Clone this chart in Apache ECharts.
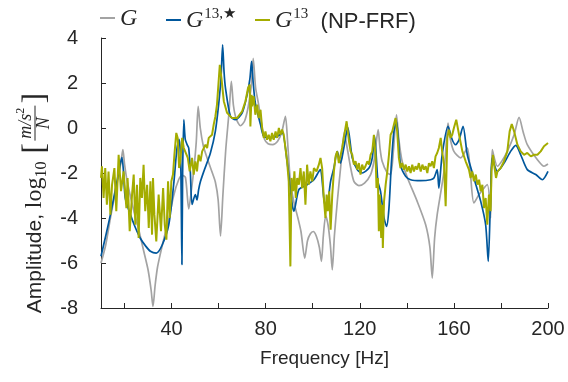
<!DOCTYPE html>
<html><head><meta charset="utf-8">
<script src="https://cdn.jsdelivr.net/npm/echarts@6/dist/echarts.min.js"></script>
<style>html,body{margin:0;padding:0;background:#fff}#c{width:568px;height:382px}</style>
</head><body><div id="c"></div>
<script>
// Tick values
const xTicks = [20,40,60,80,100,120,140,160,180,200];
const xLabels = [40,80,120,160,200];
const yTicks = [-8,-6,-4,-2,0,2,4];

// G (true system) - gray
const gFreq = [10,12,14,16,17.5,18.5,19.3,20,21,22,24,26,28,30,31.3,32.1,33,34,35.2,37,38.5,40.9,43,44.5,45.9,47.3,48.5,49.5,50.5,51.3,52.2,53.5,55.1,57,58.6,59.8,60.8,61.8,63,64.5,65.4,66.3,67.5,69.3,71,72.5,73.8,74.7,75.7,77,78.5,79.5,81,83,85,86.8,88.4,89.3,90.5,92,93.7,95,96.6,97.8,99,100.2,101.5,102.8,103.7,104.5,105.5,106.5,107.5,108.3,109.2,110.5,112,113.4,114.5,116,117.5,119.6,122,124.6,126,126.7,127.8,128.6,129.5,131.7,133.1,134.3,135.6,136.6,138,140.2,144.4,148,149.8,150.8,151.8,152.9,155.8,156.8,157.5,158.5,160,162.9,165.7,167,168.5,170.7,174.2,175.6,176.3,178.5,180.5,182.7,185.6,187.7,189.5,191.2,195.5,198.3,200];
const gVal = [-6.0,-5.2,-4.0,-2.9,-2.1,-1.5,-0.96,-1.6,-2.3,-2.8,-3.7,-4.5,-5.4,-6.3,-7.2,-7.93,-7.0,-6.2,-5.6,-4.8,-4.2,-3.0,-2.3,-2.1,-2.2,-3.6,-2.7,-1.8,-0.6,0.96,0,-0.8,-1.33,-1.9,-2.4,-3.2,-4.8,-3.0,-1.0,0.8,2.07,1.0,0.4,0.1,0.3,0.9,1.8,3.1,1.8,1.04,0.0,-0.5,-0.7,-0.74,-0.6,-0.2,0.52,-0.6,-2.37,-3.3,-4.0,-4.6,-5.78,-5.0,-4.7,-4.6,-4.8,-5.3,-5.93,-4.8,-3.9,-4.3,-5.2,-6.3,-4.8,-3.2,-1.6,-0.19,-0.8,-1.7,-2.37,-2.56,-2.45,-2.07,-1.5,-0.9,-0.07,-0.9,-1.48,-2.0,-2.07,-1.0,0.59,-0.5,-1.48,-2.2,-3.26,-4.3,-5.3,-6.67,-4.9,-3.85,-1.93,-0.6,0.22,-0.5,-1.04,-1.33,-0.89,-2.0,-3.33,-2.96,-2.52,-4.0,-0.96,-1.7,-1.45,-1.04,-0.3,0.47,-0.2,-0.74,-1.41,-1.7,-1.6];

// G^{13,*} - blue
const bFreq = [10,12,14,16.8,18.2,18.9,19.6,20.3,22.5,24.5,26.7,29,31,33.5,36,38.8,40.9,42.3,43.2,43.9,44.4,44.7,45.2,45.8,46.6,47.3,48,48.7,50.1,50.8,51.5,52.3,53.7,56.5,58.6,60,61,61.7,62.3,62.9,65,67.1,70,72.1,73.3,74,74.7,75.6,77.8,79.2,82,84.9,87,89.1,91.3,92,94.1,97.6,100.5,102.6,103.3,104.7,105.4,106.5,107.6,109,110.4,111.8,113.2,114.9,116.8,118.9,121,123.9,125.3,126.3,127.7,128.8,130.3,131.4,132.4,133.4,134.5,135.6,137.3,139.5,141.6,145.9,150.1,151.5,152.9,153.6,155,157.5,159.3,160.7,162.2,163.9,165.7,168.5,171.4,173.5,174.6,175.6,176.3,178.5,181.3,184.1,186.3,188.4,191.2,194.8,197.6,200];
const bVal = [-5.7,-4.8,-3.85,-2.37,-1.6,-1.3,-2.0,-3.1,-3.85,-4.4,-4.9,-5.25,-5.48,-5.56,-5.2,-4.3,-2.5,-0.9,-0.5,-1.6,-6.07,-2.0,0.37,-0.5,-0.74,-0.9,-2.0,-3.4,-2.96,-3.2,-2.74,-2.37,-1.93,-1.11,-0.15,1.04,2.2,3.7,2.5,1.78,0.52,0.37,0.67,1.48,2.2,2.96,2.0,1.11,0.15,-0.37,-0.44,-0.37,-0.22,-1.48,-3.41,-3.7,-2.74,-2.52,-2.3,-1.93,-1.85,-3.11,-3.48,-3.2,-2.37,-1.78,-1.04,-1.56,-0.89,0.03,-1.33,-1.85,-2.0,-1.78,-1.33,-0.37,-2.37,-2.81,-4.0,-4.37,-3.56,-1.63,-0.15,0.3,-1.63,-2.15,-2.3,-2.34,-2.3,-2.22,-1.85,-2.67,-1.19,0.07,-0.52,-0.74,-0.52,0.07,-1.19,-2.22,-3.26,-4.3,-5.93,-3.0,-1.33,-1.93,-1.56,-1.04,-0.77,-1.19,-1.85,-2.07,-2.3,-1.93];

// G^{13} (NP-FRF) - green
const nFreq = [10,10.4,11.1,11.8,12.5,13.2,14,14.7,15.7,16.5,17.5,18.5,19.6,20.8,21.3,22.2,23.2,23.9,24.6,25.3,26,26.7,27.4,28.1,28.8,29.6,30.3,31,31.7,32.1,32.7,33.5,34.5,35.5,36.4,37.1,37.8,38.5,39.2,39.9,40.6,41.2,42,42.6,43.2,43.7,44.5,45.2,45.9,46.9,47.7,48.7,49.4,50.1,50.8,51.5,52.3,53,53.7,54.4,55.1,55.8,57.2,57.9,58.6,59.3,60.5,61.2,62.2,63.6,65.7,67.8,70,71.4,72.5,73.2,73.5,74,74.2,74.9,75.6,76.4,77,77.8,78.5,79.2,79.9,80.6,81.3,82,82.7,83.4,84.2,84.9,85.6,86.3,87,87.7,89.1,89.8,90.5,91,91.7,92.2,92.8,93.4,94.1,94.8,95.5,96.2,96.9,97.6,98.3,99,99.8,100.5,101.6,102.6,103.3,104,104.7,105.4,105.9,106.4,107,107.6,108.3,109,109.7,110.4,111.1,111.8,112.5,113.2,114.4,115.4,116.1,116.8,117.5,118.2,118.9,119.6,120.3,121,121.7,122.4,123.2,123.9,124.6,125.3,126,126.7,127.1,127.7,128.1,128.5,129.1,129.5,129.8,130.3,131,131.7,132.4,133.1,133.8,134.5,135.2,135.9,136.6,137.3,138,138.8,139.5,140.2,140.9,141.6,142.3,143,143.7,144.4,145.1,145.9,146.6,147.3,148,148.7,149.4,150.1,150.8,151.5,152.2,152.9,153.6,154.4,155,155.8,156.5,157.2,157.9,158.6,159.3,160,161,162.2,163.6,165,166.4,167.1,167.8,168.5,169.3,170,170.7,171.4,172.1,172.8,173.5,174.2,174.9,175.6,176,176.6,177.3,177.9,178.5,179.9,181.3,182.7,183.7,184.6,185.6,187,188.4,189.8,191.2,192.7,194.1,195.5,196.9,198.3,200];
const nVal = [-2.22,-1.7,-3.11,-1.78,-3.41,-1.93,-3.85,-2.52,-1.78,-3.7,-1.19,-2.81,-1.93,-3.56,-2.22,-4.59,-2.96,-2.07,-4.3,-2.52,-4.89,-2.22,-3.11,-1.63,-3.7,-2.52,-4.44,-2.37,-4.74,-2.22,-3.85,-5.04,-2.96,-4.59,-2.67,-4.3,-4.96,-2.37,-4.0,-2.37,-2.07,-1.19,-0.22,-0.44,-1.78,-1.48,-0.44,-0.89,-0.89,-1.33,-1.93,-1.33,-2.07,-1.48,-1.93,-1.19,-1.48,-1.04,-1.11,-0.74,-0.89,-0.44,-0.3,0.15,0.5,1.04,2.81,2.22,1.19,0.67,0.44,0.44,0.74,1.19,1.78,1.93,0.07,1.48,0.96,1.41,0.59,1.04,0.44,0.81,0.0,-0.44,-0.15,-0.52,-0.3,-0.59,-0.22,-0.52,-0.15,-0.44,0.0,-0.3,-0.07,-0.3,-1.48,-2.37,-6.15,-2.22,-2.81,-1.93,-3.11,-2.22,-2.52,-1.78,-2.67,-1.93,-3.41,-1.63,-2.52,-1.93,-2.37,-1.78,-1.93,-1.63,-1.33,-1.78,-3.11,-4.0,-2.96,-3.7,-2.81,-4.52,-2.96,-1.93,-1.26,-1.04,-1.56,-1.48,-0.89,-0.44,0.3,-0.59,-1.04,-1.19,-1.63,-1.48,-1.85,-1.56,-2.07,-1.63,-1.85,-1.7,-1.48,-1.63,-1.19,-1.04,-0.3,-1.19,-2.67,-2.22,-4.59,-2.96,-4.89,-3.41,-5.33,-3.26,-2.52,-1.93,-1.19,-0.3,-0.15,0.15,0.44,-0.15,-1.33,-1.78,-1.56,-1.85,-1.63,-1.93,-1.7,-2.0,-1.63,-1.93,-1.7,-1.85,-1.56,-1.93,-1.63,-1.85,-1.7,-2.0,-1.56,-1.7,-1.48,-1.78,-1.26,-1.11,-0.89,-0.44,-1.04,-1.63,-3.48,-0.44,-0.07,-0.44,-0.3,0.0,0.37,-0.3,-1.04,-1.48,-1.85,-2.22,-1.93,-2.37,-2.07,-2.52,-2.3,-2.81,-2.52,-3.56,-3.11,-4.3,-2.96,-3.7,-1.93,-1.19,-1.78,-2.22,-1.93,-1.78,-1.48,-1.04,-0.15,0.18,-0.15,-0.74,-1.04,-1.19,-1.11,-1.26,-1.19,-1.19,-1.04,-0.81,-0.67];

const pairs = (f, v) => f.map((x, i) => [x, v[i]]);
const axisCol = '#262626';
const serif = '"Liberation Serif","DejaVu Serif",serif';
const sans = '"Liberation Sans",Arial,sans-serif';

// ---- y-axis title built from text pieces (with a stacked fraction) ----
const mctx = document.createElement('canvas').getContext('2d');
function tw(t, font) { mctx.font = font; return mctx.measureText(t).width; }
function yTitle(cx, cy) {
  const fSans = '21px ' + sans, fSer = '24px ' + serif, fSub = '16px ' + serif;
  const fIt = 'italic 18px ' + serif, fSup = '12px ' + serif, fBr = '31px ' + serif;
  const kids = [];
  const parts = [];
  parts.push({t: 'Amplitude, ', f: fSans, s: 21, dy: 0});
  parts.push({t: 'log', f: fSer, s: 24, dy: 0});
  parts.push({t: '10', f: fSub, s: 16, dy: 5});
  parts.push({sp: 8});
  parts.push({t: '[', f: fBr, s: 31, dy: 4});
  parts.push({frac: true});
  parts.push({t: ']', f: fBr, s: 31, dy: 4});
  const wNum = tw('m/s', fIt) + tw('2', fSup);
  const wDen = tw('N', fIt);
  const wFrac = Math.max(wNum, wDen) + 4;
  let W = 0;
  parts.forEach(p => { p.w = p.sp ? p.sp : (p.frac ? wFrac + 5 : tw(p.t, p.f)); W += p.w; });
  let x = -W / 2;
  const txt = (t, f, s, xx, base) => ({
    type: 'text', silent: true,
    style: {text: t, x: xx, y: base - 0.32 * s, font: f, fill: axisCol,
            textAlign: 'left', textVerticalAlign: 'middle', align: 'left', verticalAlign: 'middle'}
  });
  parts.forEach(p => {
    if (p.sp) { x += p.w; return; }
    if (p.frac) {
      const x0 = x + 2.5, bar = -7;
      kids.push({type: 'line', silent: true, shape: {x1: x0, y1: bar, x2: x0 + wFrac, y2: bar},
                 style: {stroke: axisCol, lineWidth: 1}});
      const nx = x0 + (wFrac - wNum) / 2;
      kids.push(txt('m/s', fIt, 18, nx, bar - 3));
      kids.push(txt('2', fSup, 12, nx + tw('m/s', fIt), bar - 10));
      kids.push(txt('N', fIt, 18, x0 + (wFrac - wDen) / 2, bar + 15));
    } else {
      kids.push(txt(p.t, p.f, p.s, x, p.dy));
    }
    x += p.w;
  });
  return {type: 'group', x: cx, y: cy, rotation: Math.PI / 2, children: kids};
}

const legendText = {
  color: axisCol,
  rich: {
    g: {fontFamily: serif, fontStyle: 'italic', fontSize: 24, color: axisCol, lineHeight: 26, verticalAlign: 'bottom'},
    sup: {fontFamily: serif, fontSize: 15, color: axisCol, lineHeight: 26, verticalAlign: 'top', padding: [0, 0, 0, 1]},
    t: {fontFamily: sans, fontSize: 22, color: axisCol, lineHeight: 26, verticalAlign: 'bottom'}
  }
};
const legendFmt = function (n) {
  if (n === 'G') return '{g|G}';
  if (n === 'Gs') return '{g|G}{sup|13,★}';
  return '{g|G}{sup|13}{t|  (NP-FRF)}';
};
const mkLegend = (name, left) => ({
  data: [name], left: left, top: 2, itemWidth: 15, itemHeight: 2, itemGap: 0,
  icon: 'rect', formatter: legendFmt, textStyle: legendText, selectedMode: false
});

const chart = echarts.init(document.getElementById('c'), null, {renderer: 'canvas'});
chart.setOption({
  animation: false,
  backgroundColor: '#fff',
  grid: {left: 101, right: 20, top: 38, bottom: 74, containLabel: false},
  legend: [mkLegend('G', 95), mkLegend('Gs', 161), mkLegend('Gn', 250)],
  graphic: [yTitle(42, 203)],
  xAxis: {
    type: 'value', min: 10, max: 200,
    name: 'Frequency [Hz]', nameLocation: 'middle', nameGap: 41,
    nameTextStyle: {fontFamily: sans, fontSize: 19, color: axisCol},
    axisLine: {show: true, onZero: false, lineStyle: {color: axisCol, width: 1}},
    axisTick: {show: true, inside: true, length: 5, customValues: xTicks, lineStyle: {color: axisCol}},
    axisLabel: {customValues: xLabels, fontFamily: sans, fontSize: 20, color: axisCol, margin: 11},
    splitLine: {show: false}
  },
  yAxis: {
    type: 'value', min: -8, max: 4, interval: 2,
    axisLine: {show: true, onZero: false, lineStyle: {color: axisCol, width: 1}},
    axisTick: {show: true, inside: true, length: 5, lineStyle: {color: axisCol}},
    axisLabel: {fontFamily: sans, fontSize: 20, color: axisCol, margin: 23, formatter: v => String(v)},
    splitLine: {show: false}
  },
  series: [
    {name: 'G', type: 'line', data: pairs(gFreq, gVal), showSymbol: false, smooth: 0.25,
     color: '#a3a3a3', lineStyle: {color: '#a3a3a3', width: 1.7}, z: 1},
    {name: 'Gs', type: 'line', data: pairs(bFreq, bVal), showSymbol: false, smooth: 0.25,
     color: '#00579c', lineStyle: {color: '#00579c', width: 1.7}, z: 2},
    {name: 'Gn', type: 'line', data: pairs(nFreq, nVal), showSymbol: false,
     color: '#a4ac00', lineStyle: {color: '#a4ac00', width: 2}, z: 3}
  ]
});
</script></body></html>
